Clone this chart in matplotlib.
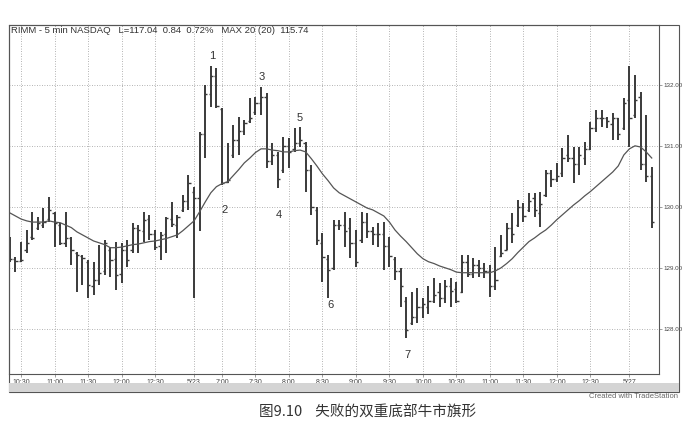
import numpy as np
import matplotlib
matplotlib.use("Agg")
import matplotlib.pyplot as plt
from matplotlib.patches import Rectangle

plt.rcParams['font.family'] = ['Liberation Sans', 'DejaVu Sans']

# 5 min bars, RIMM
highs = [129.51, 129.18, 129.43, 129.62, 129.92, 129.84, 129.98, 130.16, 129.92, 129.74,
         129.92, 129.51, 129.26, 129.21, 129.13, 129.10, 129.38, 129.46, 129.34, 129.43,
         129.41, 129.46, 129.74, 129.70, 129.92, 129.87, 129.62, 129.59, 129.84, 130.08,
         129.87, 130.20, 130.52, 130.33, 131.23, 132.00, 132.30, 132.28, 131.62, 131.05,
         131.34, 131.48, 131.43, 131.79, 131.80, 131.97, 131.87, 131.05, 130.90, 131.15,
         131.13, 131.30, 131.31, 131.07, 130.69, 130.00, 129.57, 129.21, 129.79, 129.79,
         129.92, 129.82, 129.62, 129.92, 129.90, 129.67, 129.74, 129.75, 129.51, 129.18,
         129.00, 128.52, 128.61, 128.67, 128.51, 128.70, 128.84, 128.75, 128.80, 128.84,
         128.77, 129.21, 129.21, 129.16, 129.13, 129.08, 129.05, 129.34, 129.54, 129.74,
         129.90, 130.11, 130.07, 130.23, 130.23, 130.25, 130.61, 130.61, 130.72, 130.97,
         131.18, 130.98, 130.98, 131.07, 131.39, 131.59, 131.59, 131.48, 131.54, 131.46,
         131.79, 132.30, 132.16, 131.89, 131.51, 130.66]
lows = [129.10, 128.93, 129.10, 129.25, 129.46, 129.62, 129.66, 129.75, 129.34, 129.38,
        129.34, 129.05, 128.61, 128.72, 128.51, 128.56, 128.72, 128.89, 128.85, 128.64,
        128.75, 129.02, 129.25, 129.25, 129.43, 129.46, 129.30, 129.13, 129.25, 129.67,
        129.49, 129.92, 129.95, 128.51, 129.60, 130.80, 131.64, 131.62, 130.36, 130.39,
        130.80, 130.85, 131.18, 131.38, 131.51, 131.51, 130.64, 130.69, 130.31, 130.56,
        130.64, 130.90, 130.98, 130.25, 129.87, 129.38, 128.77, 128.51, 128.97, 129.62,
        129.34, 129.16, 129.02, 129.41, 129.49, 129.38, 129.34, 128.97, 129.02, 128.80,
        128.36, 127.85, 128.07, 128.10, 128.18, 128.25, 128.43, 128.36, 128.43, 128.36,
        128.43, 128.59, 128.85, 128.84, 128.85, 128.84, 128.52, 128.64, 129.18, 129.30,
        129.41, 129.67, 129.75, 129.92, 129.84, 129.67, 130.16, 130.33, 130.41, 130.49,
        130.74, 130.39, 130.52, 130.69, 130.93, 131.23, 131.31, 131.30, 131.10, 131.10,
        131.26, 130.98, 131.46, 130.61, 130.41, 129.66]
opens = [129.45, 129.15, 129.11, 129.30, 129.50, 129.65, 129.70, 129.80, 129.90, 129.70,
         129.40, 129.49, 129.25, 129.20, 129.10, 128.70, 128.80, 128.95, 129.30, 129.15,
         128.90, 129.30, 129.30, 129.65, 129.60, 129.80, 129.55, 129.35, 129.55, 129.80,
         129.70, 129.95, 130.10, 130.25, 130.15, 131.20, 131.85, 132.15, 131.60, 130.40,
         130.85, 131.10, 131.25, 131.40, 131.55, 131.70, 131.80, 130.75, 130.85, 130.60,
         131.00, 130.95, 131.05, 131.05, 130.60, 129.95, 129.40, 129.15, 129.00, 129.70,
         129.70, 129.65, 129.40, 129.45, 129.75, 129.60, 129.55, 129.55, 129.35, 129.15,
         128.95, 128.45, 128.10, 128.20, 128.35, 128.35, 128.45, 128.60, 128.50, 128.70,
         128.65, 128.60, 129.10, 128.90, 129.05, 129.00, 128.95, 128.70, 129.20, 129.30,
         129.65, 129.70, 130.00, 129.95, 130.15, 129.90, 130.20, 130.55, 130.45, 130.55,
         130.85, 130.80, 130.70, 130.80, 130.95, 131.30, 131.45, 131.45, 131.35, 131.45,
         131.30, 131.75, 131.50, 131.80, 130.70, 130.50]
closes = [129.15, 129.11, 129.13, 129.41, 129.49, 129.74, 129.75, 129.95, 129.74, 129.41,
          129.49, 129.30, 129.21, 129.16, 128.72, 128.80, 128.92, 129.41, 129.13, 128.89,
          129.30, 129.13, 129.66, 129.62, 129.79, 129.56, 129.34, 129.54, 129.82, 129.72,
          129.84, 130.10, 130.39, 130.15, 131.20, 131.85, 132.15, 131.65, 130.39, 130.44,
          131.10, 131.25, 131.38, 131.45, 131.70, 131.80, 130.75, 130.85, 130.45, 131.00,
          130.90, 131.05, 131.10, 130.60, 130.00, 129.45, 129.18, 128.97, 129.70, 129.70,
          129.60, 129.40, 129.10, 129.75, 129.60, 129.55, 129.55, 129.35, 129.20, 128.95,
          128.70, 127.98, 128.20, 128.35, 128.40, 128.45, 128.55, 128.50, 128.70, 128.62,
          128.45, 129.10, 128.90, 129.05, 129.00, 128.95, 128.70, 128.80, 129.25, 129.65,
          129.55, 130.00, 129.85, 130.10, 129.95, 130.05, 130.55, 130.45, 130.50, 130.80,
          130.80, 130.70, 130.85, 130.95, 131.30, 131.45, 131.45, 131.40, 131.45, 131.20,
          131.70, 131.45, 131.75, 130.70, 130.50, 129.75]
ma20 = [129.90, 129.85, 129.80, 129.77, 129.75, 129.75, 129.75, 129.77, 129.75, 129.74,
        129.70, 129.66, 129.59, 129.54, 129.49, 129.44, 129.41, 129.38, 129.33, 129.33,
        129.34, 129.36, 129.38, 129.39, 129.41, 129.43, 129.44, 129.46, 129.48, 129.51,
        129.54, 129.61, 129.69, 129.77, 129.92, 130.08, 130.23, 130.33, 130.38, 130.41,
        130.51, 130.61, 130.72, 130.80, 130.89, 130.95, 130.95, 130.93, 130.92, 130.90,
        130.90, 130.92, 130.93, 130.90, 130.79, 130.67, 130.54, 130.43, 130.31, 130.23,
        130.18, 130.13, 130.08, 130.03, 129.98, 129.95, 129.90, 129.85, 129.75, 129.62,
        129.52, 129.43, 129.33, 129.23, 129.15, 129.10, 129.07, 129.03, 129.00, 128.97,
        128.93, 128.92, 128.92, 128.92, 128.92, 128.92, 128.92, 128.95, 129.00, 129.07,
        129.15, 129.25, 129.34, 129.43, 129.49, 129.56, 129.62, 129.70, 129.79, 129.87,
        129.95, 130.03, 130.10, 130.18, 130.25, 130.33, 130.41, 130.49, 130.57, 130.67,
        130.85, 130.95, 131.00, 130.98, 130.90, 130.80]

tick_pos = [2, 8, 14, 20, 26, 33, 38, 44, 50, 56, 62, 68, 74, 80, 86, 92, 98, 104, 111]
tick_labels = ["10:30", "11:00", "11:30", "12:00", "12:30", "5/23", "7:00", "7:30", "8:00",
               "8:30", "9:00", "9:30", "10:00", "10:30", "11:00", "11:30", "12:00", "12:30", "5/27"]
price_ticks = [128, 129, 130, 131, 132]

pt_names = ["1", "2", "3", "4", "5", "6", "7"]
pt_x = [36.2, 38.4, 45.2, 48.2, 52.0, 57.4, 71.2]
pt_y = [132.48, 129.95, 132.13, 129.87, 131.46, 128.39, 127.57]

fig = plt.figure(figsize=(6.85, 4.45), dpi=100)
fig.patch.set_facecolor("white")

# outer frame + grey strip under the time axis
fig.patches.append(Rectangle((8.5/685, 53/445), 670/685, 367/445, transform=fig.transFigure,
                             fill=False, ec="#555555", lw=0.8))
fig.patches.append(Rectangle((8.5/685, 53/445), 670/685, 9/445, transform=fig.transFigure,
                             fc="#d4d4d4", ec="none"))

ax = fig.add_axes([8.5/685, 71/445, 650.5/685, 349/445])
x = np.arange(len(highs))
bar_col = "#3a3a3a"
ax.vlines(x, lows, highs, color=bar_col, lw=1.4)
ax.hlines(opens, x - 0.4, x, color=bar_col, lw=1.0)
ax.hlines(closes, x, x + 0.4, color=bar_col, lw=1.0)
ax.plot(x, ma20, color="#555555", lw=0.9)

ax.set_xlim(-0.25, 116.3)
ax.set_ylim(127.26, 132.98)
ax.set_xticks(tick_pos)
ax.set_xticklabels(tick_labels, fontsize=5, color="#444444")
ax.set_yticks(price_ticks)
ax.set_yticklabels(["%.2f" % v for v in price_ticks], fontsize=4.5, color="#444444")
ax.yaxis.tick_right()
ax.tick_params(axis="both", length=2, width=0.5, color="#777777", pad=1.5)
ax.grid(True, ls=(0, (1, 2)), color="#9a9a9a", lw=0.6)
for s in ax.spines.values():
    s.set_color("#555555")
    s.set_linewidth(0.8)

ax.text(0.004, 0.997, "RIMM - 5 min NASDAQ   L=117.04  0.84  0.72%   MAX 20 (20)  115.74",
        transform=ax.transAxes, va="top", ha="left", fontsize=6.8, color="#333333")

for n, px, py in zip(pt_names, pt_x, pt_y):
    ax.text(px, py, n, fontsize=8, color="#333333", ha="center", va="center")

fig.text(678/685, (445-397)/445, "Created with TradeStation", fontsize=5.5,
         color="#666666", ha="right", va="center")
fig.text(368/685, (445-413)/445, "图9.10    失败的双重底部牛市旗形", fontsize=10.5,
         family=["Noto Sans CJK SC", "DejaVu Sans"], color="#333333", ha="center", va="center")

fig.savefig("out.png", dpi=100)
